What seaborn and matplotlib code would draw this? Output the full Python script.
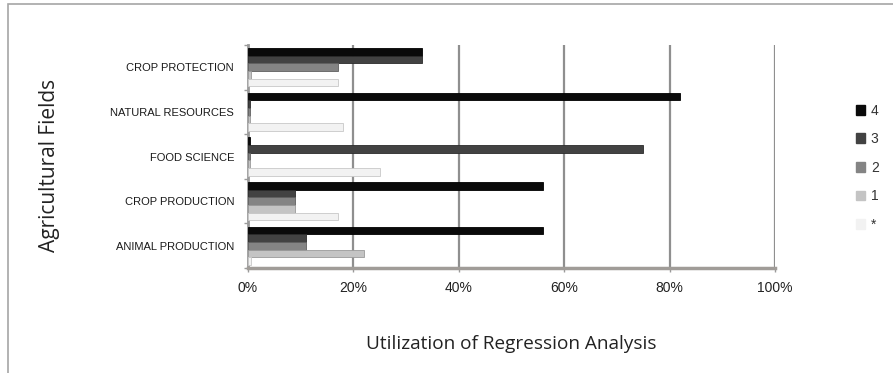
import matplotlib
matplotlib.use("Agg")
import matplotlib.pyplot as plt
import seaborn as sns
import pandas as pd
from matplotlib.patches import Patch, Rectangle
from matplotlib.ticker import PercentFormatter

categories = ["CROP PROTECTION", "NATURAL RESOURCES", "FOOD SCIENCE",
              "CROP PRODUCTION", "ANIMAL PRODUCTION"]
series_names = ["4", "3", "2", "1", "*"]
s4 = [33, 82, 0.4, 56, 56]
s3 = [33, 0.4, 75, 9, 11]
s2 = [17, 0.3, 0.3, 9, 11]
s1 = [0.5, 0.3, 0.3, 9, 22]
s_star = [17, 18, 25, 17, 0.5]
colors = ["#0a0a0a", "#424242", "#848484", "#c4c4c4", "#f2f2f2"]
edges = ["#000000", "#2a2a2a", "#606060", "#9a9a9a", "#c8c8c8"]
xticks = [0, 20, 40, 60, 80, 100]

rows = []
for name, vals in zip(series_names, [s4, s3, s2, s1, s_star]):
    for c, v in zip(categories, vals):
        rows.append({"Field": c, "Series": name, "Value": v})
df = pd.DataFrame(rows)

sns.set_theme(style="white")
plt.rcParams["font.family"] = ["Liberation Sans", "DejaVu Sans"]

fig = plt.figure(figsize=(8.93, 3.73), dpi=100)
ax = fig.add_axes([248/893, 1-268/373, (775-248)/893, (268-45)/373])

sns.barplot(data=df, y="Field", x="Value", hue="Series", order=categories,
            hue_order=series_names, palette=colors, orient="h", width=0.86,
            ax=ax, legend=False, zorder=3)
for i, cont in enumerate(ax.containers):
    for p in cont.patches:
        p.set_edgecolor(edges[i])
        p.set_linewidth(0.6)

ax.set_xlim(0, 100)
ax.set_ylim(4.5, -0.5)
ax.set_xticks(xticks)
ax.xaxis.set_major_formatter(PercentFormatter(decimals=0))
for x in xticks[1:]:
    ax.axvline(x, color="#8f8f8f", lw=1.6, zorder=1)
for s in ["top", "right"]:
    ax.spines[s].set_visible(False)
ax.spines["left"].set_color("#9a9a9a")
ax.spines["left"].set_linewidth(2)
ax.spines["bottom"].set_color("#a09c98")
ax.spines["bottom"].set_linewidth(2.5)

ax.tick_params(axis="y", labelsize=8, colors="#9a9a9a", labelcolor="#1a1a1a",
               length=0, pad=10)
ax.tick_params(axis="x", labelsize=10, colors="#9a9a9a", labelcolor="#222222",
               length=3, width=1, direction="out", bottom=True, pad=6)
ax.set_yticks([-0.5, 0.5, 1.5, 2.5, 3.5, 4.5], minor=True)
ax.tick_params(axis="y", which="minor", left=True, length=3, width=1, colors="#9a9a9a")

ax.set_xlabel("Utilization of Regression Analysis", fontsize=13.7,
              family=["Open Sans", "DejaVu Sans"], color="#222222", labelpad=29)
ax.set_ylabel("Agricultural Fields", fontsize=15,
              family=["Open Sans", "DejaVu Sans"], color="#222222", labelpad=0)
ax.yaxis.set_label_coords(-(248-60)/527, (268-165)/223)

handles = [Patch(facecolor=c, edgecolor=c) for c in colors]
fig.legend(handles, series_names, loc="upper left",
           bbox_to_anchor=(850/893, 1-98/373), frameon=False, fontsize=10,
           handlelength=0.7, handleheight=0.7, handletextpad=0.4,
           labelspacing=1.05, borderaxespad=0, labelcolor="#333333")

fig.add_artist(Rectangle((8/893, -0.1), 1.2, 1-4/373+0.1,
                         transform=fig.transFigure, fill=False,
                         edgecolor="#a6a6a6", lw=1.2))

fig.savefig("out.png", dpi=100)
